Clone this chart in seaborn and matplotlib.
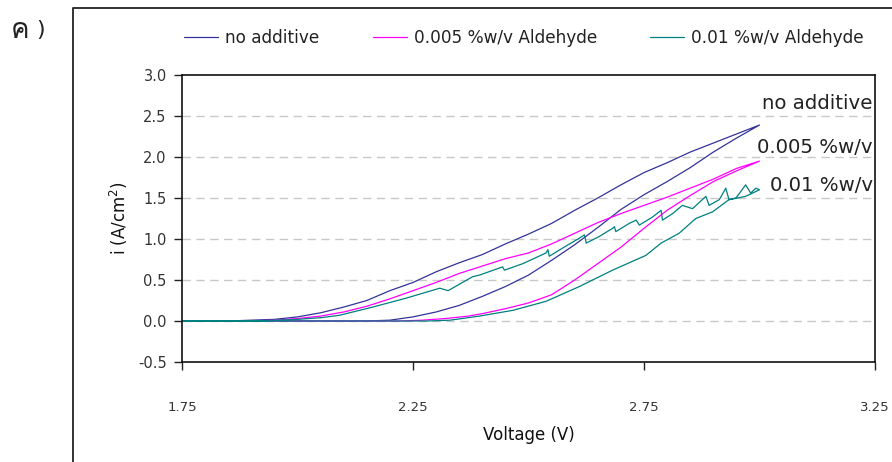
import numpy as np
import pandas as pd
import matplotlib
matplotlib.use("Agg")
import matplotlib.pyplot as plt
from matplotlib.lines import Line2D
from matplotlib import font_manager
from matplotlib.ft2font import FT2Font
import seaborn as sns

# ---- data: current density vs. voltage, forward sweep then return sweep ----
series_names = ["no additive", "0.005 %w/v Aldehyde", "0.01 %w/v Aldehyde"]

navy_v_fwd = [1.75, 2.15, 2.20, 2.25, 2.30, 2.35, 2.40, 2.45, 2.50, 2.55, 2.60,
              2.65, 2.70, 2.75, 2.80, 2.85, 2.90, 2.95, 3.00]
navy_i_fwd = [0.00, 0.00, 0.01, 0.05, 0.11, 0.19, 0.30, 0.42, 0.56, 0.74, 0.93,
              1.14, 1.36, 1.54, 1.70, 1.87, 2.06, 2.23, 2.39]
navy_v_rev = [3.00, 2.95, 2.90, 2.85, 2.80, 2.75, 2.70, 2.65, 2.60, 2.55, 2.50,
              2.45, 2.40, 2.35, 2.30, 2.25, 2.20, 2.15, 2.10, 2.05, 2.00, 1.95,
              1.90, 1.85, 1.75]
navy_i_rev = [2.39, 2.28, 2.17, 2.06, 1.93, 1.81, 1.66, 1.50, 1.35, 1.19, 1.06,
              0.94, 0.81, 0.71, 0.60, 0.47, 0.37, 0.25, 0.17, 0.10, 0.05, 0.02,
              0.01, 0.00, 0.00]

pink_v_fwd = [1.75, 2.22, 2.27, 2.32, 2.37, 2.40, 2.45, 2.50, 2.55, 2.60, 2.65,
              2.70, 2.75, 2.80, 2.85, 2.90, 2.95, 3.00]
pink_i_fwd = [0.00, 0.00, 0.01, 0.03, 0.06, 0.09, 0.15, 0.22, 0.32, 0.50, 0.70,
              0.90, 1.13, 1.35, 1.53, 1.70, 1.83, 1.95]
pink_v_rev = [3.00, 2.95, 2.90, 2.85, 2.80, 2.75, 2.70, 2.65, 2.60, 2.55, 2.50,
              2.45, 2.40, 2.35, 2.30, 2.25, 2.20, 2.15, 2.10, 2.05, 2.00, 1.95,
              1.90, 1.75]
pink_i_rev = [1.95, 1.86, 1.73, 1.62, 1.51, 1.41, 1.31, 1.20, 1.07, 0.94, 0.83,
              0.76, 0.67, 0.58, 0.47, 0.37, 0.27, 0.18, 0.11, 0.06, 0.03, 0.01,
              0.00, 0.00]

teal_v_fwd = [1.75, 2.28, 2.33, 2.394, 2.466, 2.538, 2.610, 2.682, 2.754, 2.787,
              2.826, 2.862, 2.898, 2.934, 2.970, 3.00]
teal_i_fwd = [0.00, 0.00, 0.01, 0.06, 0.13, 0.24, 0.42, 0.62, 0.80, 0.95,
              1.07, 1.25, 1.33, 1.48, 1.52, 1.60]
teal_v_rev = [3.00, 2.992, 2.981, 2.970, 2.949, 2.934, 2.927, 2.913, 2.891, 2.884,
              2.855, 2.833, 2.812, 2.790, 2.787, 2.769, 2.740, 2.733, 2.718, 2.689,
              2.686, 2.682, 2.653, 2.625, 2.621, 2.610, 2.574, 2.545, 2.542, 2.538,
              2.488, 2.448, 2.444, 2.394, 2.379, 2.326, 2.308, 2.236, 2.163, 2.091,
              2.05, 2.00, 1.95, 1.92, 1.75]
teal_i_rev = [1.60, 1.62, 1.56, 1.66, 1.50, 1.48, 1.62, 1.48, 1.41, 1.52,
              1.37, 1.41, 1.31, 1.23, 1.35, 1.27, 1.17, 1.23, 1.19, 1.09,
              1.15, 1.13, 1.03, 0.95, 1.05, 1.01, 0.89, 0.79, 0.87, 0.83,
              0.70, 0.62, 0.66, 0.56, 0.54, 0.37, 0.40, 0.28, 0.17, 0.07,
              0.04, 0.02, 0.01, 0.00, 0.00]

series_colors = ["#333399", "#ff00ff", "#008080"]
end_labels = ["no additive", "0.005 %w/v", "0.01 %w/v"]
end_label_y = [2.65, 2.12, 1.65]

y_ticks = [-0.5, 0.0, 0.5, 1.0, 1.5, 2.0, 2.5, 3.0]
x_ticks = [1.75, 2.25, 2.75, 3.25]

# ---- assemble a long table, keeping point order for each loop ----
frames = []
for name, vf, i_f, vr, ir in [
    (series_names[0], navy_v_fwd, navy_i_fwd, navy_v_rev, navy_i_rev),
    (series_names[1], pink_v_fwd, pink_i_fwd, pink_v_rev, pink_i_rev),
    (series_names[2], teal_v_fwd, teal_i_fwd, teal_v_rev, teal_i_rev),
]:
    v = list(vf) + list(vr)
    c = list(i_f) + list(ir)
    frames.append(pd.DataFrame({"Voltage": v, "Current": c, "Sample": name,
                                "step": np.arange(len(v))}))
df = pd.concat(frames, ignore_index=True)


def family_with(ch):
    for f in font_manager.fontManager.ttflist:
        try:
            if FT2Font(f.fname).get_char_index(ord(ch)):
                return f.name
        except Exception:
            pass
    return None


sns.set_theme(style="white")
plt.rcParams["font.family"] = ["DejaVu Sans"]
plt.rcParams["text.color"] = "#222222"

fig = plt.figure(figsize=(8.92, 4.62), dpi=100)
ax = fig.add_axes([182 / 892, 1 - 362 / 462, (875 - 182) / 892, (362 - 75) / 462])

for y in y_ticks[1:-1]:
    ax.axhline(y, color="#c8c8c8", lw=1.0, ls=(0, (6, 4)), zorder=0)

sns.lineplot(data=df, x="Voltage", y="Current", hue="Sample",
             hue_order=series_names, palette=series_colors, sort=False,
             estimator=None, units="Sample", lw=0.9, ax=ax, legend=True)

ax.set_xlim(1.75, 3.25)
ax.set_ylim(-0.5, 3.0)
ax.set_xticks(x_ticks)
ax.set_xticklabels([f"{t:.2f}" for t in x_ticks], fontsize=9.5, color="#333333")
ax.set_yticks(y_ticks)
ax.set_yticklabels([f"{t:.1f}" for t in y_ticks], fontsize=10.5, color="#333333")
ax.tick_params(axis="x", direction="out", length=6, width=1, color="#222222",
               pad=22, bottom=True)
ax.tick_params(axis="y", direction="out", length=6, width=1, color="#222222",
               pad=5, left=True)
for s in ax.spines.values():
    s.set_visible(True)
    s.set_color("#111111")
    s.set_linewidth(1.2)

ax.set_xlabel("Voltage (V)", fontsize=12, color="#111111", labelpad=9)
ax.set_ylabel("i (A/cm$^2$)", fontsize=12, color="#111111", labelpad=6)

for lbl, yv in zip(end_labels, end_label_y):
    ax.text(3.245, yv, lbl, ha="right", va="center", fontsize=14.2,
            color="#222222", clip_on=False)

handles, labels = ax.get_legend_handles_labels()
ax.get_legend().remove()
fig.legend(handles, labels, loc="center left",
           bbox_to_anchor=(184 / 892, 1 - 38 / 462), ncol=3, frameon=False,
           fontsize=12.2, handlelength=2.0, handletextpad=0.42,
           columnspacing=3.15, borderpad=0, borderaxespad=0)

# outer panel border and panel letter
fig.add_artist(Line2D([73 / 892, 73 / 892, 1.0], [0.0, 1 - 8 / 462, 1 - 8 / 462],
                      transform=fig.transFigure, color="#222222", lw=1.3))
thai = family_with("\u0e04")
fam = [thai, "DejaVu Sans"] if thai else ["DejaVu Sans"]
fig.text(11 / 892, 1 - 31 / 462, "ค", family=fam, fontsize=20,
         va="center", ha="left", color="#222222")
fig.text(36 / 892, 1 - 30 / 462, ")", fontsize=16,
         va="center", ha="left", color="#222222")

fig.savefig("out.png", dpi=100)
